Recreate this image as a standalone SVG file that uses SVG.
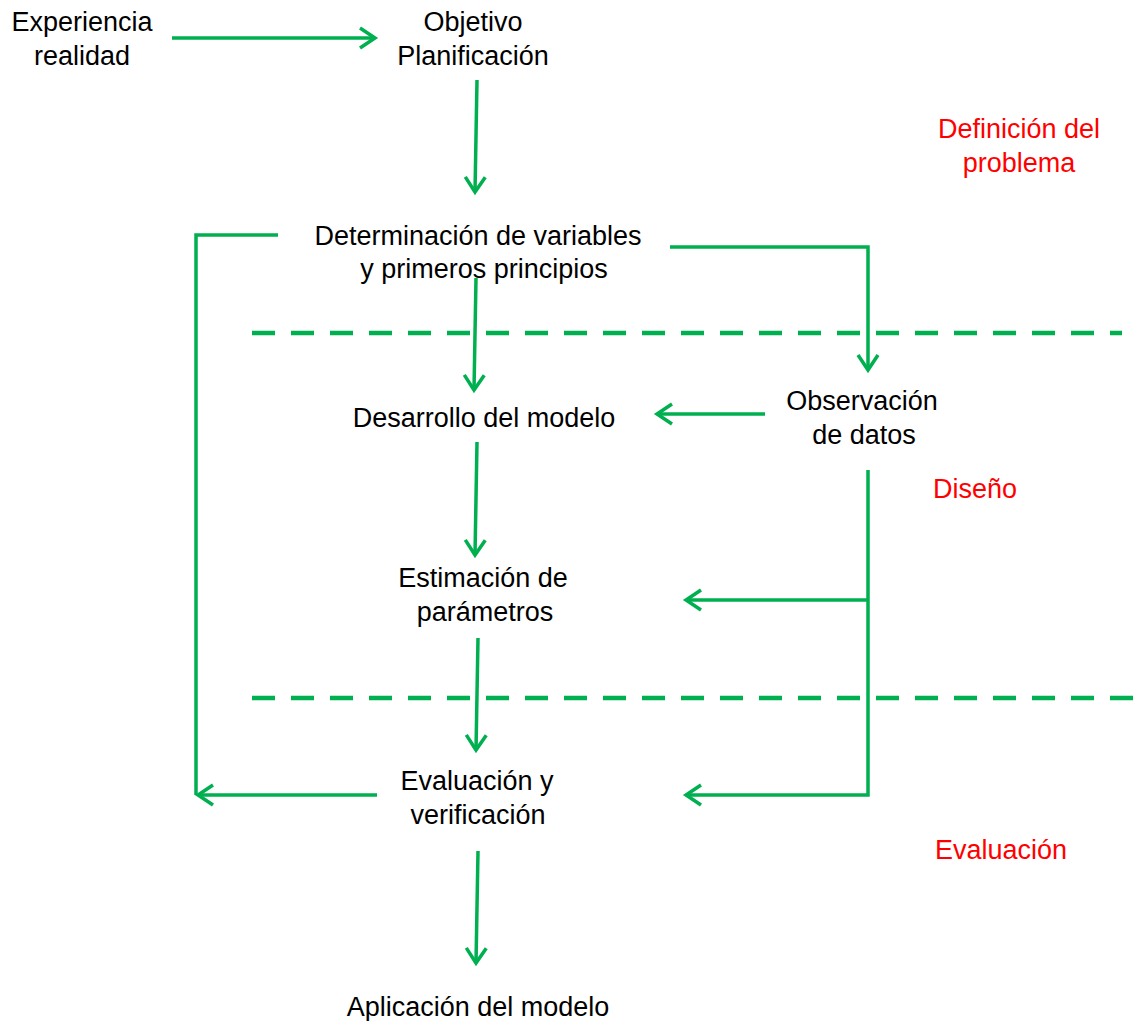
<svg xmlns="http://www.w3.org/2000/svg" width="1133" height="1021" viewBox="0 0 1133 1021">
<defs>
<style>
.t{font-family:"Liberation Sans",Arial,sans-serif;font-size:27px;fill:#000;text-anchor:middle}
.r{fill:#ff0000}
.c{fill:none;stroke:#00b050;stroke-width:3.5}
.d{fill:none;stroke:#00b050;stroke-width:4.5;stroke-dasharray:23 16}
</style>
<marker id="ah" markerUnits="userSpaceOnUse" markerWidth="24" markerHeight="24" viewBox="0 0 24 24" refX="18" refY="12" orient="auto" overflow="visible">
<path d="M3,2 L18,12 L3,22" fill="none" stroke="#00b050" stroke-width="3.5"/>
</marker>
</defs>
<rect width="1133" height="1021" fill="#fff"/>
<g id="connectors">
<path class="c" d="M172,38 L375,38" marker-end="url(#ah)"/>
<path class="c" d="M477,80 L475,192" marker-end="url(#ah)"/>
<path class="c" d="M278,235 L196,235 L196,795"/>
<path class="c" d="M377,795 L198,795" marker-end="url(#ah)"/>
<path class="c" d="M670,247 L868,247 L868,370" marker-end="url(#ah)"/>
<path class="c" d="M476,278 L474,390" marker-end="url(#ah)"/>
<path class="c" d="M765,414 L657,414" marker-end="url(#ah)"/>
<path class="c" d="M868,470 L868,795 L686,795" marker-end="url(#ah)"/>
<path class="c" d="M868,600 L686,600" marker-end="url(#ah)"/>
<path class="c" d="M477,442 L475,555" marker-end="url(#ah)"/>
<path class="c" d="M478,638 L476,750" marker-end="url(#ah)"/>
<path class="c" d="M478,851 L476,963" marker-end="url(#ah)"/>
<path class="d" d="M252,333 L1122,333"/>
<path class="d" d="M252,698 L1133,698"/>
</g>
<g id="experiencia"><text class="t" x="82" y="31">Experiencia</text><text class="t" x="82" y="65">realidad</text></g>
<g id="objetivo"><text class="t" x="473" y="31">Objetivo</text><text class="t" x="473" y="65">Planificación</text></g>
<g id="definicion"><text class="t r" x="1019" y="138">Definición del</text><text class="t r" x="1019" y="172">problema</text></g>
<g id="determinacion"><text class="t" x="478" y="245">Determinación de variables</text><text class="t" x="484" y="278">y primeros principios</text></g>
<g id="desarrollo"><text class="t" x="484" y="427">Desarrollo del modelo</text></g>
<g id="observacion"><text class="t" x="862" y="410">Observación</text><text class="t" x="864" y="444">de datos</text></g>
<g id="diseno"><text class="t r" x="975" y="498">Diseño</text></g>
<g id="estimacion"><text class="t" x="483" y="587">Estimación de</text><text class="t" x="485" y="621">parámetros</text></g>
<g id="evaluacion-verif"><text class="t" x="477" y="790">Evaluación y</text><text class="t" x="478" y="824">verificación</text></g>
<g id="evaluacion"><text class="t r" x="1001" y="859">Evaluación</text></g>
<g id="aplicacion"><text class="t" x="478" y="1016">Aplicación del modelo</text></g>
</svg>
